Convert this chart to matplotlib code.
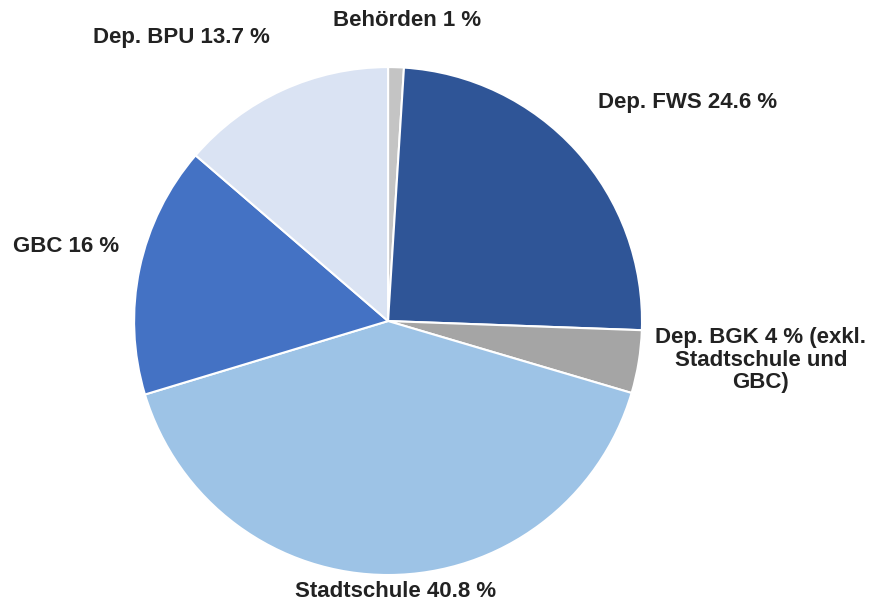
import matplotlib.pyplot as plt

# slice data (clockwise from the top)
labels = ['Behörden 1 %', 'Dep. FWS 24.6 %', 'Dep. BGK 4 % (exkl.\nStadtschule und\nGBC)',
          'Stadtschule 40.8 %', 'GBC 16 %', 'Dep. BPU 13.7 %']
shares = [1, 24.6, 4, 40.8, 16, 13.7]
colors = ['#c4c4c4', '#2f5597', '#a5a5a5', '#9dc3e6', '#4472c4', '#dae3f3']

# label centres in data units (pie radius = 1)
label_pos = [(0.075, 1.185), (1.18, 0.86), (1.468, -0.154),
             (0.03, -1.063), (-1.268, 0.295), (-0.815, 1.118)]

plt.rcParams['font.family'] = ['Liberation Sans', 'DejaVu Sans']

fig = plt.figure(figsize=(8.82, 6.04), dpi=100)
ax = fig.add_axes([0, 0, 1, 1])

ax.pie(shares, colors=colors, startangle=90, counterclock=False, radius=1,
       wedgeprops={'edgecolor': 'white', 'linewidth': 1.5})

for lab, (x, y) in zip(labels, label_pos):
    ax.text(x, y, lab, ha='center', va='center', fontsize=16,
            fontweight='bold', color='#222222', linespacing=1.1)

ax.set_xlim(-1.528, 1.945)
ax.set_ylim(-1.114, 1.264)
ax.set_aspect('equal')
ax.axis('off')

fig.savefig('out.png', dpi=100, facecolor='white')
